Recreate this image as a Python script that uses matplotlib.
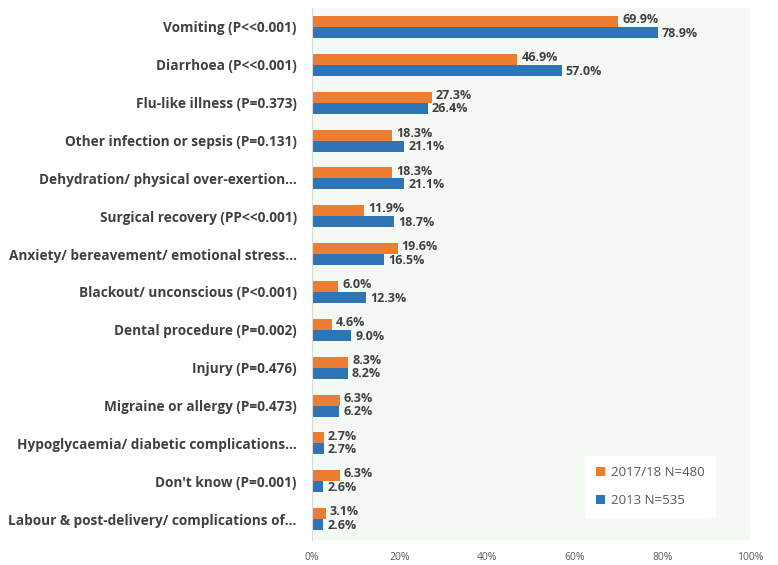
import matplotlib.pyplot as plt
import numpy as np

categories = [
    'Vomiting (P<<0.001)',
    'Diarrhoea (P<<0.001)',
    'Flu-like illness (P=0.373)',
    'Other infection or sepsis (P=0.131)',
    'Dehydration/ physical over-exertion\u2026',
    'Surgical recovery (PP<<0.001)',
    'Anxiety/ bereavement/ emotional stress\u2026',
    'Blackout/ unconscious (P<0.001)',
    'Dental procedure (P=0.002)',
    'Injury (P=0.476)',
    'Migraine or allergy (P=0.473)',
    'Hypoglycaemia/ diabetic complications\u2026',
    "Don't know (P=0.001)",
    'Labour & post-delivery/ complications of\u2026',
]
vals_2017 = [69.9, 46.9, 27.3, 18.3, 18.3, 11.9, 19.6, 6.0, 4.6, 8.3, 6.3, 2.7, 6.3, 3.1]
vals_2013 = [78.9, 57.0, 26.4, 21.1, 21.1, 18.7, 16.5, 12.3, 9.0, 8.2, 6.2, 2.7, 2.6, 2.6]
xticks = [0, 20, 40, 60, 80, 100]

orange = '#ED7D31'
blue = '#2E75B6'
txt = '#404040'

plt.rcParams['font.family'] = ['Open Sans', 'DejaVu Sans']

fig = plt.figure(figsize=(7.78, 5.65), dpi=100)
ax = fig.add_axes([312 / 778, 25 / 565, 438 / 778, 532 / 565])
ax.set_facecolor('#F5F9F3')

y = np.arange(len(categories))
h = 0.29
ax.barh(y - h / 2, vals_2017, height=h, color=orange, label='2017/18 N=480')
ax.barh(y + h / 2, vals_2013, height=h, color=blue, label='2013 N=535')

for i in range(len(categories)):
    ax.text(vals_2017[i] + 0.9, y[i] - h / 2 - 0.05, '%.1f%%' % vals_2017[i],
            va='center', ha='left', fontsize=9, fontweight='bold', color=txt)
    ax.text(vals_2013[i] + 0.9, y[i] + h / 2 + 0.02, '%.1f%%' % vals_2013[i],
            va='center', ha='left', fontsize=9, fontweight='bold', color=txt)

ax.set_xlim(0, 100)
ax.set_ylim(len(categories) - 0.45, -0.5)
ax.set_yticks(y)
ax.set_yticklabels(categories, fontsize=9.8, fontweight='bold', color=txt)
ax.set_xticks(xticks)
ax.set_xticklabels(['%d%%' % t for t in xticks], fontsize=7.5, color='#595959')
ax.tick_params(axis='y', length=0, pad=11)
ax.tick_params(axis='x', length=0, pad=9)
for s in ['top', 'right', 'bottom']:
    ax.spines[s].set_visible(False)
ax.spines['left'].set_color('#D9D9D9')

leg = ax.legend(loc='lower right', bbox_to_anchor=(0.935, 0.03), frameon=True,
                fancybox=False, edgecolor='white', facecolor='white', framealpha=1,
                fontsize=9.5, handlelength=0.7, handleheight=0.7, labelspacing=1.1,
                handletextpad=0.4, borderpad=0.8)
for t in leg.get_texts():
    t.set_color('#595959')

fig.savefig('out.png', dpi=100)
